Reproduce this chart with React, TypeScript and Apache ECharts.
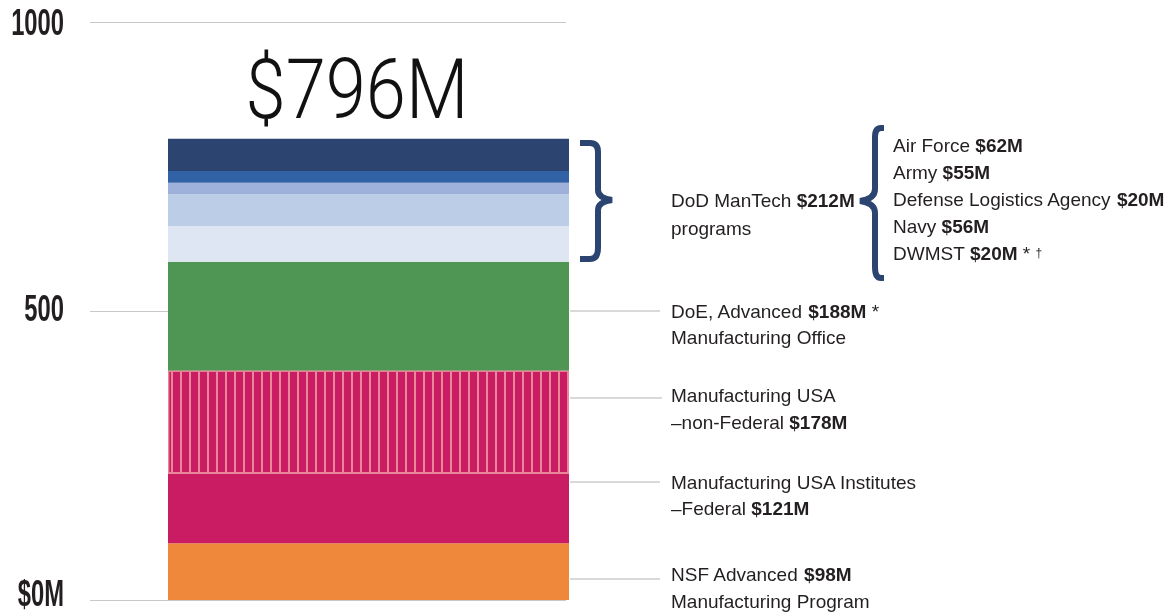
import React, { useEffect, useRef } from "react";
import * as echarts from "echarts";

// ---- data ----
const categories = ["Funding"];
const seriesNames = [
  "NSF Advanced Manufacturing Program",
  "Manufacturing USA Institutes –Federal",
  "Manufacturing USA –non-Federal",
  "DoE, Advanced Manufacturing Office",
  "Air Force",
  "Army",
  "Defense Logistics Agency",
  "DWMST",
  "Navy",
];
const seriesValues = [98, 121, 178, 188, 62, 55, 20, 20, 56];
const yTickValues = [0, 500, 1000];
const yTickLabels = ["$0M", "500", "1000"];
const totalLabel = "$796M";

// ---- styles ----
const seriesColors = [
  "#ef883b",
  "#c91c63",
  "#c91c63",
  "#4f9553",
  "#dfe6f3",
  "#bccde7",
  "#9db1da",
  "#3262a6",
  "#2c4470",
];
const tickLabelDy = [-7, -3, 0];
const TEXT = "#231f20";
const NAVY = "#2c4470";
const LEAD = "#b4b4b4";
const FONT = "'Liberation Sans', Arial, sans-serif";

let registered = false;
function registerShapes() {
  if (registered) return;
  registered = true;
  echarts.graphic.registerShape(
    "braceRight",
    echarts.graphic.extendPath(
      "M0 3 H10 Q18 3 18 12 V50 Q18 58 32 60 Q18 62 18 70 V108 Q18 119 10 119 H0",
      {}
    )
  );
  echarts.graphic.registerShape(
    "braceLeft",
    echarts.graphic.extendPath(
      "M26 3 H23 Q17 3 17 12 V64 Q17 74 2 76 Q17 78 17 88 V142 Q17 153 23 153 H26",
      {}
    )
  );
}

const rich = {
  r: { fontFamily: FONT, fontSize: 19, fill: TEXT, color: TEXT },
  b: { fontFamily: FONT, fontSize: 19, fontWeight: "bold", fill: TEXT, color: TEXT },
  s: { fontFamily: FONT, fontSize: 12, fill: TEXT, color: TEXT },
};

function txt(x: number, y: number, text: string) {
  return {
    type: "text",
    x,
    y,
    silent: true,
    style: {
      text,
      rich,
      fontFamily: FONT,
      fontSize: 19,
      fill: TEXT,
      verticalAlign: "middle",
      align: "left",
    },
  };
}

function lead(x1: number, x2: number, y: number) {
  return {
    type: "line",
    silent: true,
    shape: { x1, y1: y, x2, y2: y },
    style: { stroke: LEAD, lineWidth: 1.2 },
  };
}

export default function App() {
  const ref = useRef<HTMLDivElement>(null);
  useEffect(() => {
    if (!ref.current) return;
    registerShapes();
    const chart = echarts.init(ref.current, null, { renderer: "svg" });
    const series = seriesNames.map((name, i) => ({
      name,
      type: "bar",
      stack: "total",
      xAxisIndex: 1,
      yAxisIndex: 1,
      barWidth: "100%",
      data: [seriesValues[i]],
      itemStyle:
        i === 2
          ? {
              color: seriesColors[i],
              borderColor: "#ea8797",
              borderWidth: 1.2,
              decal: {
                symbol: "rect",
                symbolSize: 1,
                color: "#e8869a",
                dashArrayX: [2, 7],
                dashArrayY: [10, 0],
                rotation: 0,
              },
            }
          : { color: seriesColors[i] },
      emphasis: { disabled: true },
    }));
    const staticGraphic = [
      {
        type: "text",
        x: 357,
        y: 89,
        scaleX: 0.86,
        silent: true,
        style: {
          text: totalLabel,
          fontFamily: "Roboto",
          fontWeight: 300,
          fontSize: 84,
          fill: "#111",
          align: "center",
          verticalAlign: "middle",
        },
      },
      {
        type: "braceRight",
        x: 580,
        y: 140,
        silent: true,
        style: { fill: "none", stroke: NAVY, lineWidth: 6 },
      },
      {
        type: "braceLeft",
        x: 858,
        y: 125,
        silent: true,
        style: { fill: "none", stroke: NAVY, lineWidth: 6 },
      },
      txt(671, 200, "{r|DoD ManTech }{b|$212M}"),
      txt(671, 228, "{r|programs}"),
      txt(893, 145, "{r|Air Force }{b|$62M}"),
      txt(893, 172, "{r|Army }{b|$55M}"),
      txt(893, 199, "{r|Defense Logistics Agency }{b|$20M}"),
      txt(893, 226, "{r|Navy }{b|$56M}"),
      txt(893, 253, "{r|DWMST }{b|$20M}{r| * }{s|†}"),
      lead(570, 660, 311),
      txt(671, 311, "{r|DoE, Advanced }{b|$188M}{r| *}"),
      txt(671, 337, "{r|Manufacturing Office}"),
      lead(570, 662, 398),
      txt(671, 395, "{r|Manufacturing USA}"),
      txt(671, 422, "{r|–non-Federal }{b|$178M}"),
      lead(570, 660, 482),
      txt(671, 482, "{r|Manufacturing USA Institutes}"),
      txt(671, 508, "{r|–Federal }{b|$121M}"),
      lead(570, 660, 579),
      txt(671, 574, "{r|NSF Advanced }{b|$98M}"),
      txt(671, 601, "{r|Manufacturing Program}"),
    ];
    chart.setOption({
      animation: false,
      grid: [
        { left: 90, top: 22, width: 476, height: 578, outerBoundsMode: "none", containLabel: false },
        { left: 168, top: 22, width: 401, height: 578, outerBoundsMode: "none", containLabel: false },
      ],
      xAxis: [
        { type: "category", gridIndex: 0, data: categories, show: false },
        { type: "category", gridIndex: 1, data: categories, show: false },
      ],
      yAxis: [
        {
          type: "value",
          gridIndex: 0,
          min: yTickValues[0],
          max: yTickValues[yTickValues.length - 1],
          interval: yTickValues[1] - yTickValues[0],
          axisLine: { show: false },
          axisTick: { show: false },
          axisLabel: { show: false },
          splitLine: { lineStyle: { color: "#c8c8c8", width: 1.2 } },
        },
        {
          type: "value",
          gridIndex: 1,
          min: yTickValues[0],
          max: yTickValues[yTickValues.length - 1],
          show: false,
          splitLine: { show: false },
        },
      ],
      series,
      graphic: staticGraphic,
    });
    // tick labels placed through the y axis scale
    const tickTexts = yTickValues.map((v, i) => {
      const py = chart.convertToPixel({ yAxisIndex: 0 }, v) as number;
      return {
        type: "text",
        x: 64,
        y: py + tickLabelDy[i],
        scaleX: 0.66,
        silent: true,
        style: {
          text: yTickLabels[i],
          fontFamily: FONT,
          fontWeight: "bold",
          fontSize: 36,
          fill: TEXT,
          align: "right",
          verticalAlign: "middle",
        },
      };
    });
    chart.setOption({ graphic: [...staticGraphic, ...tickTexts] }, { replaceMerge: ["graphic"] });
    return () => chart.dispose();
  }, []);
  return (
    <div
      ref={ref}
      style={{ position: "fixed", left: 0, top: 0, width: 1174, height: 612 }}
    />
  );
}
